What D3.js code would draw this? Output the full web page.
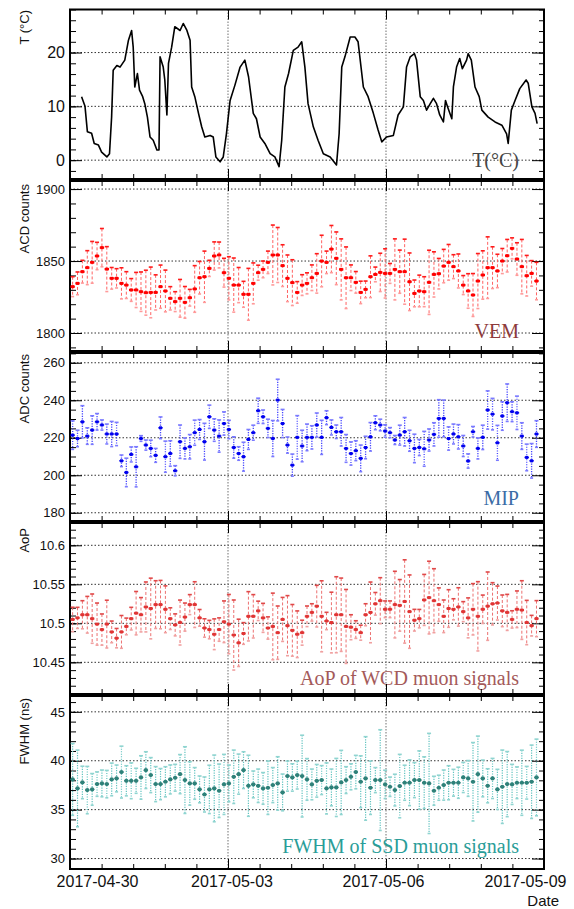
<!DOCTYPE html>
<head>
  <meta charset="utf-8">
  <style>
    body { margin: 0; background: #fff; }
    text { font-family: "Liberation Sans", Arial, sans-serif; }
    .plabel { font-family: "Liberation Serif", "Times New Roman", serif; font-size: 20px; }
  </style>
</head>
<body>
<svg id="chart" width="574" height="909"></svg>
<script src="https://cdn.jsdelivr.net/npm/d3@7"></script>
<script>

/******* Data *******/

// temperature trace: days after 2017-04-30 00:00 and degrees C
var tempDay = [0.22,0.285,0.33,0.41,0.46,0.54,0.60,0.70,0.75,0.79,0.82,0.89,0.95,1.04,1.11,1.17,1.20,1.23,1.28,1.32,1.38,1.42,1.47,1.52,1.58,1.65,1.69,1.71,1.77,1.80,1.84,1.87,1.93,1.99,2.09,2.15,2.22,2.28,2.31,2.37,2.44,2.50,2.56,2.66,2.72,2.77,2.85,2.91,2.97,3.04,3.13,3.23,3.32,3.39,3.48,3.54,3.61,3.70,3.80,3.89,3.97,4.02,4.08,4.15,4.24,4.33,4.40,4.46,4.52,4.62,4.71,4.81,4.94,5.06,5.11,5.16,5.22,5.32,5.41,5.47,5.57,5.66,5.76,5.85,5.92,6.01,6.14,6.23,6.33,6.39,6.46,6.54,6.58,6.65,6.71,6.77,6.84,6.90,6.96,7.02,7.09,7.13,7.17,7.25,7.28,7.34,7.40,7.45,7.53,7.56,7.62,7.69,7.77,7.82,7.94,8.07,8.20,8.29,8.32,8.38,8.45,8.54,8.66,8.70,8.77,8.83,8.87];
var tempC = [11.8,10,5.3,5.0,3.1,2.8,1.5,0.6,1.2,8,16.7,17.6,17.3,18.6,22.3,24.1,21,13.6,16.1,13,11.8,10.5,8,4.3,3.7,1.9,1.9,19.2,17.3,14.9,8.4,18,21,24.8,24.1,25.4,24.1,22.3,13.6,11.8,8.7,6.2,4.3,4.6,4.3,0.6,-0.3,0.6,4.9,11.1,13.9,17.3,18.6,15.5,8.7,7.7,4.3,3.1,1.2,0.6,-1.2,3.7,13.6,16.1,20.4,21,22,17.3,10.5,6.2,3.7,1.2,0.6,-0.9,4.9,17.3,19.2,22.9,22.9,22,13.6,11.8,8.7,5.6,3.4,4.3,4.6,8.4,9.9,17.3,19.2,19.8,18.6,11.8,11.1,9.3,10.5,11.5,10.5,8.4,7.1,11.1,9.9,7.7,13.6,17.3,18.9,17,18.6,19.8,18.6,13.6,11.8,9.3,8,7.1,6.5,4.9,3.1,9.3,11.1,13.3,14.9,14.3,9.9,8.7,6.8];

// binned series (one value per time bin)
var binStartHours = 1.2, binHours = 2.225;

var vem = [1832.2,1834.5,1842.6,1845.4,1849.1,1853.5,1859.3,1844.4,1838,1838,1834.5,1833.3,1829.9,1829.9,1828.7,1828,1828.2,1828.2,1832.2,1829.2,1824.1,1821.8,1824.1,1821.3,1824.5,1830.6,1838.4,1839.1,1844.9,1853.5,1854.2,1841.9,1838,1833.3,1833.3,1826.9,1826.9,1834.5,1841.9,1844.2,1849.1,1854.2,1854.2,1846.8,1838,1835,1828.2,
  1833.3,1834.5,1838.4,1841.4,1850,1849.1,1858.3,1851.9,1844.2,1838.4,1838.4,1835.2,1828.2,1830.3,1839.1,1840.7,1842.1,1841.4,1841.4,1844.2,1842.6,1842.6,1835.6,1827.5,1829.2,1828.7,1835.2,1840.7,1841.2,1846.5,1849.1,1846.1,1843.1,1833.3,1829.2,1826.4,1836.1,1840.3,1845.4,1845.4,1843.1,1850,1853.7,1858.8,1851.4,1846.1,1839.8,1841.4,1836.1];
var vemErr = [6.9,7.9,7.9,11.8,14.5,9.5,13.3,15.6,7.5,6.7,10.8,9.3,7.9,12.2,13.7,15.6,17.6,12.2,15,14.5,8.1,6.9,13.1,11,5.8,16.2,11.3,17.8,5.6,9.8,9,10,15,18.8,12.2,9,18,14.2,5.2,5.8,7.8,20.8,19.1,14.5,16.2,15.9,7.5,
  7.2,7.3,8.9,13.7,17.9,7.8,16.4,18.3,21.2,21.4,8.9,7.5,7.8,5.8,14.5,5.1,13.3,17.1,6.9,21.2,15,22.6,20,9.3,11,10.4,22.3,15.7,10.6,11.6,12.4,8.3,11.8,6.6,12,14.9,19.1,16.8,21.4,14.5,11.6,8.7,11.3,7.3,11.3,18.9,14.1,8.9,13];

var mip = [221.4,219.6,228.5,220.9,224.1,228.5,226.8,222,222,222,207.7,201.5,211.1,204.5,219.6,216.1,214.3,210.6,225.3,209.9,211.6,202.4,217.9,214.3,215.2,222.7,224.4,217.9,231.2,224.1,220.9,227.6,224.4,214.8,211.6,209.9,219.1,222.7,234.4,231.2,225,219.6,240.1,227.6,216.1,205.4,220.2,
  215.6,220.2,220.2,226.8,220.2,230.7,225.5,223.2,223.2,214.3,211.6,213.1,209,214.8,220.5,228,226.8,223.6,222.7,218.8,221.4,223.2,218.4,214.3,214.8,214.1,218.8,221.8,230.3,230.3,219.6,222,220.5,215.6,207.6,223.2,214.3,220.2,234.8,232.6,217.3,231.6,238.7,233.9,233.3,220.9,209.5,207.7,222];
var mipErr = [7.6,4.4,8.6,4.4,7.6,4.4,2.7,5.3,6.7,6.2,3.1,7.6,4,10.7,1.5,2.7,4.4,3.7,5.8,8.3,6.8,2.7,8.9,5.6,6.5,6.7,5.3,9.8,6.2,6,8.6,6.2,4.9,5.7,3.6,7.7,5.3,4,6.7,3.6,4.9,9.6,11.1,7.5,4.3,5.9,11.6,
  8.4,7.1,6.2,6.4,9.1,3.7,4,3.6,7.6,7.4,6.2,5.3,7.1,6,7.6,3.7,3.1,3.3,2.7,2.4,5.3,7.6,5.6,7.6,4.3,9.3,5.9,6.2,10,9.8,6.2,5.3,6.5,5.6,3.8,2.8,5.6,6.5,10.2,8.4,9.3,7.6,10,5.3,8.9,7.1,7.1,9.2,7.1];

var aop = [10.505,10.507,10.511,10.511,10.506,10.499,10.492,10.499,10.489,10.481,10.489,10.496,10.506,10.513,10.511,10.521,10.519,10.524,10.524,10.518,10.506,10.498,10.501,10.508,10.524,10.524,10.507,10.494,10.492,10.486,10.492,10.502,10.499,10.485,10.475,10.487,10.509,10.509,10.516,10.507,10.494,10.496,10.488,10.505,10.497,10.491,10.486,
  10.488,10.509,10.514,10.522,10.509,10.503,10.501,10.511,10.511,10.496,10.495,10.492,10.488,10.511,10.514,10.525,10.529,10.518,10.518,10.524,10.523,10.528,10.515,10.504,10.506,10.530,10.533,10.529,10.524,10.509,10.519,10.518,10.521,10.515,10.507,10.518,10.509,10.518,10.522,10.525,10.526,10.516,10.514,10.505,10.518,10.517,10.501,10.497,10.506];
var aopErr = [0.0156,0.0135,0.018,0.0235,0.0316,0.027,0.02,0.0306,0.0139,0.0124,0.021,0.0107,0.0145,0.0278,0.022,0.032,0.0389,0.0306,0.031,0.03,0.0139,0.0141,0.0288,0.018,0.0128,0.0293,0.0107,0.0118,0.0118,0.0197,0.015,0.0267,0.038,0.0449,0.0303,0.0139,0.0316,0.0278,0.0124,0.0186,0.0143,0.0427,0.0342,0.0282,0.0385,0.0331,0.0299,
  0.016,0.0132,0.0111,0.0267,0.0455,0.0111,0.0389,0.0487,0.047,0.0474,0.016,0.0113,0.0096,0.0141,0.0389,0.0145,0.0295,0.0107,0.0107,0.0427,0.0331,0.0534,0.047,0.0139,0.0118,0.0327,0.0466,0.041,0.0214,0.0209,0.0241,0.0135,0.0246,0.0128,0.0256,0.0329,0.0444,0.0182,0.0438,0.0271,0.0218,0.0203,0.0231,0.0111,0.0235,0.0376,0.0284,0.0132,0.0231];

var fwhm = [38.09,37.17,37.78,37,37.07,37.61,37.68,37.61,38.09,38.19,38.84,37.95,37.95,37.95,38.29,39.04,38.53,37.61,37.61,37.85,38.09,38.26,38.63,38.02,37.68,37.68,37.07,36.55,37.07,37.17,36.93,37.58,37.68,38.36,38.63,39.04,37.44,37.58,37.44,37.17,37.24,37.51,37.68,36.76,38.43,38.29,38.53,
  38.43,38.09,37.58,37.95,38.02,37.17,37.27,37.27,37.78,38.02,38.36,38.84,37.85,38.19,37.24,38.02,38.02,37.58,37.34,37,37.41,37.75,37.75,38.02,38.02,37.75,37.68,36.93,37.24,37.51,37.75,37.75,37.75,38.29,38.19,37.85,38.63,38.19,37.44,38.19,37.07,37.34,37.61,37.58,37.75,37.75,37.75,37.85,38.29];
var fwhmErr = [3.67,3.92,1.66,2.42,1.62,1.25,1.37,1.4,1.67,1.37,2.65,1.54,1.83,1.28,2.22,1.88,1.79,1.79,1.59,1.54,1.48,1.37,2,3.41,2.22,1.62,1.37,1.79,2.47,3.41,2.73,3.07,1.88,2.73,2.05,1.88,3.12,1.37,1.71,1.62,2.73,1.79,2.73,1.88,1.54,1.4,1.42,
  4.18,2.13,1.57,1.67,1.48,2.61,1.88,2.97,3.28,1.37,1.33,1.71,2.65,4.27,2.73,1.28,5.15,1.45,0.99,1.62,3.24,1.79,2.34,1.79,2.99,2.65,5.12,1.48,1.28,1.54,1.74,1.37,1.59,1.54,1.83,4.01,3.89,1.88,1.74,2.05,2.05,3.75,3.33,2.05,1.62,3.33,1.67,3.75,3.92];

// tick labels
var tTicks = [0, 10, 20];
var vemTicks = [1800, 1850, 1900];
var mipTicks = [180, 200, 220, 240, 260];
var aopTicks = [10.45, 10.5, 10.55, 10.6];
var fwhmTicks = [30, 35, 40, 45];
var dateTicks = ["2017-04-30", "2017-05-03", "2017-05-06", "2017-05-09"];

/******* Setup *******/

var svg = d3.select("#chart"),
    left = 70, right = 544,
    DAY = 864e5,
    t0 = Date.UTC(2017, 3, 30);

function dayToDate(d) { return new Date(t0 + d * DAY); }

var x = d3.scaleUtc()
  .domain([new Date(t0), dayToDate(9)])
  .range([left, right]);

var binTimes = vem.map(function(d, i) { return new Date(t0 + (binStartHours + i * binHours) * 36e5); });
var halfBin = binHours * 0.45 * 36e5;

var majorDates = dateTicks.map(function(s) { return new Date(s + "T00:00:00Z"); });
var minorDates = d3.range(1, 15).filter(function(k) { return k % 5; }).map(function(k) { return dayToDate(k * 0.6); });
var gridDates = majorDates.slice(1, 3);

//Panels, top to bottom
var panels = [
  {top: 9.5, bottom: 179, domain: [-3.5, 28], ticks: tTicks, minor: 2, font: 16, title: "T (\u00b0C)", titleY: 10,
   label: "T(\u00b0C)", labelY: 167, labelColor: "#444"},
  {top: 181, bottom: 351, domain: [1787.5, 1905.6], ticks: vemTicks, minor: 10, font: 13, title: "ACD counts", titleY: 184,
   label: "VEM", labelY: 338, labelColor: "#8e3b3b"},
  {top: 353, bottom: 521, domain: [175.6, 265.2], ticks: mipTicks, minor: 5, font: 13, title: "ADC counts", titleY: 354,
   label: "MIP", labelY: 505, labelColor: "#3b6ca6"},
  {top: 523, bottom: 694, domain: [10.4094, 10.6286], ticks: aopTicks, minor: 0.01, font: 13, title: "AoP", titleY: 528,
   label: "AoP of WCD muon signals", labelY: 685, labelColor: "#a45a5a"},
  {top: 696, bottom: 869, domain: [28.93, 46.62], ticks: fwhmTicks, minor: 1, font: 13, title: "FWHM (ns)", titleY: 698,
   label: "FWHM of SSD muon signals", labelY: 853, labelColor: "#2a9d98"}
];

function drawPanel(p, i) {
  var y = d3.scaleLinear().domain(p.domain).range([p.bottom, p.top]);
  var g = svg.append("g");

  //grid
  g.selectAll(".hgrid").data(p.ticks).enter().append("line")
    .attr("x1", left).attr("x2", right)
    .attr("y1", y).attr("y2", y)
    .attr("stroke", "#333").attr("stroke-dasharray", "1.5,2");
  g.selectAll(".vgrid").data(gridDates).enter().append("line")
    .attr("x1", x).attr("x2", x)
    .attr("y1", p.top).attr("y2", p.bottom)
    .attr("stroke", "#999").attr("stroke-width", 1.4).attr("stroke-dasharray", "1.5,1.5");

  //in-panel label
  g.append("text").attr("class", "plabel")
    .attr("x", 519).attr("y", p.labelY)
    .attr("text-anchor", "end")
    .attr("fill", p.labelColor)
    .text(p.label);

  //minor ticks
  var lo = Math.ceil(p.domain[0] / p.minor), hi = Math.floor(p.domain[1] / p.minor);
  var minorVals = d3.range(lo, hi + 1).map(function(k) { return +(k * p.minor).toFixed(4); });

  var axes = [
    [d3.axisLeft(y).tickValues(minorVals).tickSize(-6).tickFormat(""), left],
    [d3.axisRight(y).tickValues(minorVals).tickSize(-5).tickFormat(""), right],
    [d3.axisLeft(y).tickValues(p.ticks).tickSize(-12).tickPadding(5).tickFormat(String), left],
    [d3.axisRight(y).tickValues(p.ticks).tickSize(-12).tickFormat(""), right]
  ];
  axes.forEach(function(a) {
    g.append("g").attr("transform", "translate(" + a[1] + ",0)")
      .style("font-size", p.font + "px").style("font-family", "Liberation Sans, Arial, sans-serif")
      .call(a[0]).call(function(s) { s.select(".domain").remove(); s.selectAll("text").attr("fill", "#111"); });
  });

  //x ticks top and bottom
  g.append("g").attr("transform", "translate(0," + p.top + ")")
    .call(d3.axisTop(x).tickValues(minorDates).tickSize(-5).tickFormat(""))
    .call(function(s) { s.select(".domain").remove(); });
  g.append("g").attr("transform", "translate(0," + p.top + ")")
    .call(d3.axisTop(x).tickValues(majorDates).tickSize(-10).tickFormat(""))
    .call(function(s) { s.select(".domain").remove(); });
  g.append("g").attr("transform", "translate(0," + p.bottom + ")")
    .call(d3.axisBottom(x).tickValues(minorDates).tickSize(-5).tickFormat(""))
    .call(function(s) { s.select(".domain").remove(); });
  var xb = g.append("g").attr("class", "xaxis").attr("transform", "translate(0," + p.bottom + ")")
    .style("font-size", "16px").style("font-family", "Liberation Sans, Arial, sans-serif")
    .call(d3.axisBottom(x).tickValues(majorDates).tickSize(-10).tickPadding(6.5)
      .tickFormat(i == panels.length - 1 ? d3.utcFormat("%Y-%m-%d") : ""))
    .call(function(s) { s.select(".domain").remove(); s.selectAll("text").attr("fill", "#111"); });

  //frame
  g.append("rect")
    .attr("x", left).attr("y", p.top)
    .attr("width", right - left).attr("height", p.bottom - p.top)
    .attr("fill", "none").attr("stroke", "#000").attr("stroke-width", 2);

  //axis title
  g.append("text")
    .attr("transform", "translate(29," + p.titleY + ") rotate(-90)")
    .attr("text-anchor", "end")
    .style("font-size", "13px")
    .attr("fill", "#111")
    .text(p.title);

  return {g: g, y: y, xaxis: xb};
}

var P = panels.map(drawPanel);

/******* Marks *******/

//temperature trace
var tData = tempDay.map(function(d, i) { return [d, tempC[i]]; });
P[0].g.append("path")
  .datum(tData)
  .attr("fill", "none")
  .attr("stroke", "#000")
  .attr("stroke-width", 1.6)
  .attr("stroke-linejoin", "round")
  .attr("d", d3.line()
    .x(function(d) { return x(dayToDate(d[0])); })
    .y(function(d) { return P[0].y(d[1]); }));

function drawErrors(panel, vals, errs, st) {
  var y = panel.y;
  var pts = panel.g.append("g").selectAll("g")
    .data(vals.map(function(v, i) { return {t: binTimes[i], v: v, e: errs[i]}; }))
    .enter().append("g");

  pts.append("line")
    .attr("x1", function(d) { return x(d.t); }).attr("x2", function(d) { return x(d.t); })
    .attr("y1", function(d) { return y(d.v + d.e); }).attr("y2", function(d) { return y(d.v - d.e); })
    .attr("stroke", st.err).attr("stroke-width", st.ew).attr("stroke-dasharray", st.dash);

  //caps
  pts.append("line")
    .attr("x1", function(d) { return x(d.t) - 2; }).attr("x2", function(d) { return x(d.t) + 2; })
    .attr("y1", function(d) { return y(d.v + d.e); }).attr("y2", function(d) { return y(d.v + d.e); })
    .attr("stroke", st.capTop).attr("stroke-width", 1.6);
  pts.append("line")
    .attr("x1", function(d) { return x(d.t) - 1.5; }).attr("x2", function(d) { return x(d.t) + 1.5; })
    .attr("y1", function(d) { return y(d.v - d.e); }).attr("y2", function(d) { return y(d.v - d.e); })
    .attr("stroke", st.capBot).attr("stroke-width", 1.6);

  //horizontal bin width
  pts.append("line")
    .attr("x1", function(d) { return x(new Date(+d.t - halfBin)); })
    .attr("x2", function(d) { return x(new Date(+d.t + halfBin)); })
    .attr("y1", function(d) { return y(d.v); }).attr("y2", function(d) { return y(d.v); })
    .attr("stroke", st.mark).attr("stroke-width", st.xw);

  if (st.circle) {
    pts.append("circle")
      .attr("cx", function(d) { return x(d.t); }).attr("cy", function(d) { return y(d.v); })
      .attr("r", 2.1).attr("fill", st.mark);
  } else {
    pts.append("rect")
      .attr("x", function(d) { return x(d.t) - 1.5; }).attr("y", function(d) { return y(d.v) - 1.5; })
      .attr("width", 3).attr("height", 3).attr("fill", st.mark);
  }
}

drawErrors(P[1], vem, vemErr, {err: "#ff6262", ew: 1, dash: "3,2", capTop: "#ff1a1a", capBot: "#ff9a9a", mark: "#ff0000", xw: 2.2});
drawErrors(P[2], mip, mipErr, {err: "#4646ff", ew: 1.3, dash: "1.2,1.3", capTop: "#7a7aff", capBot: "#7a7aff", mark: "#0000ee", xw: 1.5});
drawErrors(P[3], aop, aopErr, {err: "#ec7070", ew: 1, dash: "3,2", capTop: "#e04848", capBot: "#f0a0a0", mark: "#e03434", xw: 2});
drawErrors(P[4], fwhm, fwhmErr, {err: "#62c4c0", ew: 1.2, dash: "1.2,1.3", capTop: "#8fd4d0", capBot: "#8fd4d0", mark: "#2e8179", circle: true, xw: 1.4});

//shift the date labels as in the original
var labelShift = [27, 3.5, -3, -19];
P[4].xaxis.selectAll(".tick text").attr("dx", function(d, i) { return labelShift[i]; });

svg.append("text")
  .attr("x", 559).attr("y", 906)
  .attr("text-anchor", "end")
  .style("font-size", "15px")
  .attr("fill", "#111")
  .text("Date");

</script>
</body>
